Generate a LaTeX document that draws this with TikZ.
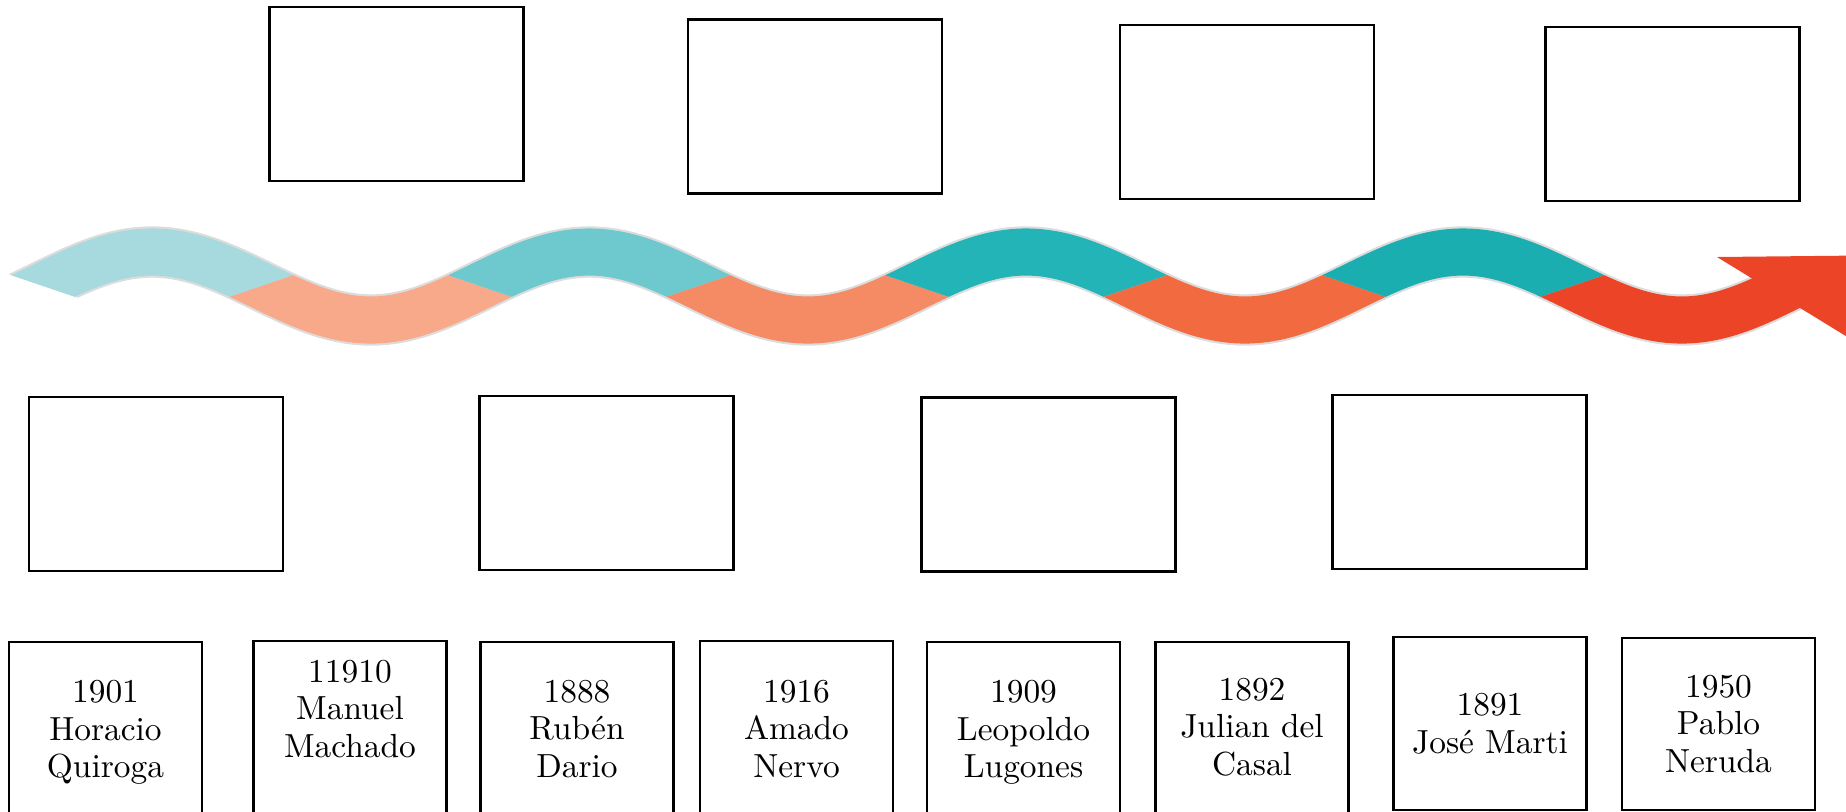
\documentclass[tikz,border=0pt]{standalone}
\usepackage{xcolor}
\usepackage{tikz}

\definecolor{wave1}{HTML}{A6DADF}
\definecolor{wave2}{HTML}{F8A98A}
\definecolor{wave3}{HTML}{6DC9CE}
\definecolor{wave4}{HTML}{F58B65}
\definecolor{wave5}{HTML}{22B4B7}
\definecolor{wave6}{HTML}{F26A40}
\definecolor{wave7}{HTML}{1AAEB0}
\definecolor{wave8}{HTML}{EC4426}

\begin{document}
\begin{tikzpicture}[x=0.01cm,y=-0.01cm]
			\tikzstyle{slot} = [draw, line width=0.7pt, minimum width=2.54cm, minimum height=1.74cm, inner sep=0pt]
			\tikzstyle{card} = [draw, line width=0.7pt, minimum width=1.93cm, minimum height=1.9cm, inner sep=0pt]
			\tikzstyle{poet} = [align=center, font=\fontsize{9.5}{10.7}\selectfont]
			\tikzstyle{band} = [line width=13.4pt]
			\tikzstyle{bandshadow} = [line width=14.6pt, draw=black!30, opacity=0.45]
			
			\useasboundingbox (0,0) rectangle (1846,811);
			
			\node[slot](top1) at (396.5,94) {};
			\node[slot](top2) at (815,106.5) {};
			\node[slot](top3) at (1247,112) {};
			\node[slot](top4) at (1672.5,114) {};
			
			\node[slot](mid1) at (156,484) {};
			\node[slot](mid2) at (606.5,483) {};
			\node[slot](mid3) at (1048.5,484.5) {};
			\node[slot](mid4) at (1459.5,482) {};
			
			\begin{scope}
			\clip (-210,200) -- (400,407) -- (1900,407) -- (1900,150) -- (-210,150) -- cycle;
			\draw[bandshadow] (-66,320) cos (43,286) sin (152,252) cos (261.5,286) sin (371,320) cos (480,286)
				sin (589,252) cos (698.5,286) sin (808,320) cos (917,286) sin (1026,252) cos (1135.5,286)
				sin (1245,320) cos (1354,286) sin (1463,252) cos (1572.5,286) sin (1682,320) cos (1791,286);
			\end{scope}
			
			\begin{scope}
			\clip (-210,200) -- (143,320) -- (161.5,320) -- (514.5,200) -- cycle;
			\draw[band, draw=wave1] (-66,320) cos (43,286) sin (152,252) cos (261.5,286) sin (371,320);
			\end{scope}
			\begin{scope}
			\clip (8.5,372) -- (361.5,252) -- (380,252) -- (733,372) -- cycle;
			\draw[band, draw=wave2] (152,252) cos (261.5,286) sin (371,320) cos (480,286) sin (589,252);
			\end{scope}
			\begin{scope}
			\clip (227,200) -- (580,320) -- (598.5,320) -- (951.5,200) -- cycle;
			\draw[band, draw=wave3] (371,320) cos (480,286) sin (589,252) cos (698.5,286) sin (808,320);
			\end{scope}
			\begin{scope}
			\clip (445.5,372) -- (798.5,252) -- (817,252) -- (1170,372) -- cycle;
			\draw[band, draw=wave4] (589,252) cos (698.5,286) sin (808,320) cos (917,286) sin (1026,252);
			\end{scope}
			\begin{scope}
			\clip (664,200) -- (1017,320) -- (1035.5,320) -- (1388.5,200) -- cycle;
			\draw[band, draw=wave5] (808,320) cos (917,286) sin (1026,252) cos (1135.5,286) sin (1245,320);
			\end{scope}
			\begin{scope}
			\clip (882.5,372) -- (1235.5,252) -- (1254,252) -- (1607,372) -- cycle;
			\draw[band, draw=wave6] (1026,252) cos (1135.5,286) sin (1245,320) cos (1354,286) sin (1463,252);
			\end{scope}
			\begin{scope}
			\clip (1101,200) -- (1454,320) -- (1472.5,320) -- (1825.5,200) -- cycle;
			\draw[band, draw=wave7] (1245,320) cos (1354,286) sin (1463,252) cos (1572.5,286) sin (1682,320);
			\end{scope}
			\begin{scope}
			\clip (1319.5,372) -- (1672.5,252) -- (1900,252) -- (1900,372) -- cycle;
			\draw[band, draw=wave8] (1463,252) cos (1572.5,286) sin (1682,320) cos (1791,286);
			\end{scope}
			\fill[wave8] (1717,257) -- (1910,255) -- (1880,357) -- cycle;
			
			\node[card](card1) at (105.5,737) {};
			\node[card](card2) at (350,736) {};
			\node[card](card3) at (577,737) {};
			\node[card](card4) at (796.5,736) {};
			\node[card](card5) at (1023.5,737) {};
			\node[card](card6) at (1252,737) {};
			\node[card, minimum height=1.73cm](card7) at (1490,723.5) {};
			\node[card, minimum height=1.72cm](card8) at (1718.5,724) {};
			
			\node[poet](poet1) at (105.5,732.5) {1901\\Horacio\\Quiroga};
			\node[poet](poet2) at (350,709) {11910\\Manuel\\Machado};
			\node[poet](poet3) at (577,729) {1888\\Rubén\\Dario};
			\node[poet](poet4) at (796.5,729) {1916\\Amado\\Nervo};
			\node[poet](poet5) at (1023.5,732.5) {1909\\Leopoldo\\Lugones};
			\node[poet](poet6) at (1252,727) {1892\\Julian del\\Casal};
			\node[poet](poet7) at (1490,724) {1891\\José Marti};
			\node[poet](poet8) at (1718.5,724) {1950\\Pablo\\Neruda};
			
			\end{tikzpicture}
\end{document}
